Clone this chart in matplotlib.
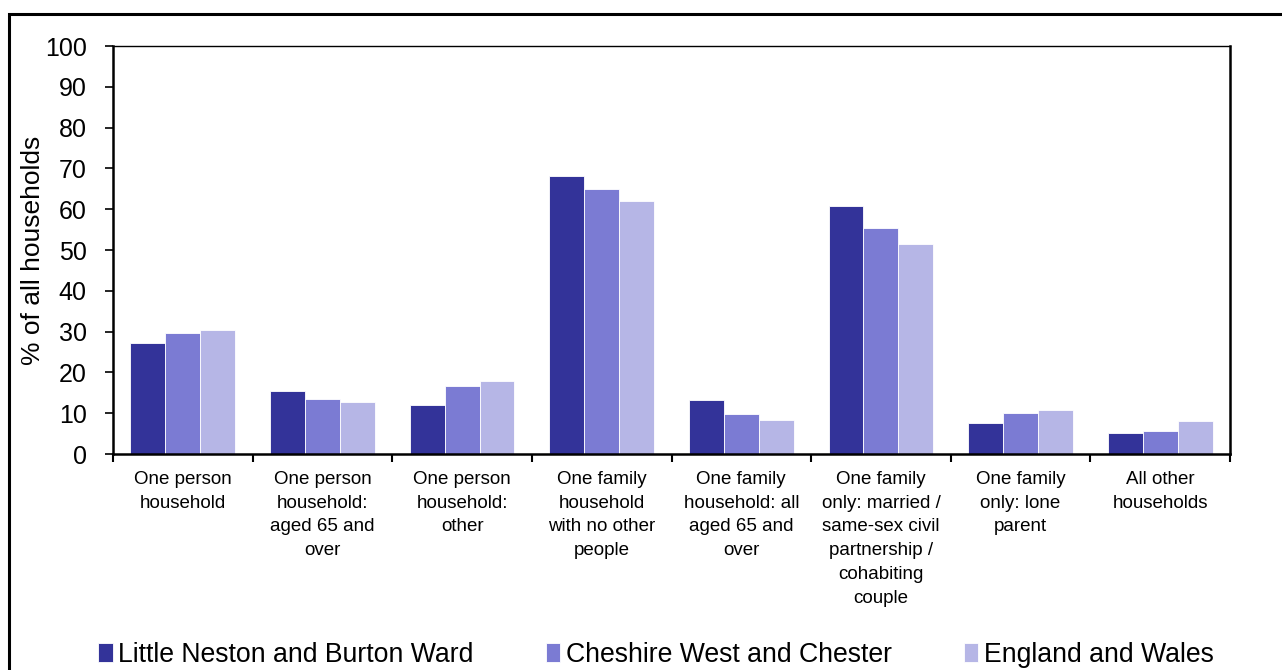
# -*- coding: utf-8 -*-
import numpy as np
import matplotlib
matplotlib.use('Agg')
import matplotlib.pyplot as plt
from matplotlib.patches import Rectangle

plt.rcParams['font.family'] = ['Liberation Sans', 'DejaVu Sans']

# Dados
categorias = ['One person\nhousehold',
              'One person\nhousehold:\naged 65 and\nover',
              'One person\nhousehold:\nother',
              'One family\nhousehold\nwith no other\npeople',
              'One family\nhousehold: all\naged 65 and\nover',
              'One family\nonly: married /\nsame-sex civil\npartnership /\ncohabiting\ncouple',
              'One family\nonly: lone\nparent',
              'All other\nhouseholds']
series = ['Little Neston and Burton Ward', 'Cheshire West and Chester', 'England and Wales']
ward = [27.3, 15.4, 12.1, 68.1, 13.2, 60.8, 7.5, 5.1]
cheshire = [29.7, 13.4, 16.6, 65.0, 9.7, 55.3, 10.0, 5.6]
england = [30.3, 12.7, 18.0, 61.9, 8.4, 51.4, 10.8, 8.2]
cores = ['#333399', '#7B7BD3', '#B6B6E6']
yticks = list(range(0, 101, 10))

fig = plt.figure(figsize=(12.82, 6.70), dpi=100)
ax = fig.add_axes([113/1282, 1 - 454/670, (1230 - 113)/1282, (454 - 46)/670])

x = np.arange(len(categorias))
largura = 0.25
for k, (valores, nome, cor) in enumerate(zip([ward, cheshire, england], series, cores)):
    ax.bar(x + 0.25 + k * largura, valores, largura, color=cor, label=nome,
           edgecolor='white', linewidth=0.6)

ax.set_xlim(0, len(categorias))
ax.set_ylim(0, 100)
ax.set_yticks(yticks)
ax.tick_params(axis='y', labelsize=18, direction='out', length=6, width=1.2, pad=13)
ax.set_xticks(np.arange(len(categorias) + 1))
ax.set_xticklabels([])
ax.tick_params(axis='x', which='major', direction='out', length=6, width=1.5)
ax.set_xticks(x + 0.5, minor=True)
ax.set_xticklabels(categorias, minor=True, fontsize=13.5, linespacing=1.53, va='top')
ax.tick_params(axis='x', which='minor', length=0, pad=12)
ax.set_ylabel('% of all households', fontsize=19)
ax.yaxis.set_label_coords((45 - 113) / 1117, 0.5)

for lado in ['left', 'bottom', 'right']:
    ax.spines[lado].set_linewidth(1.8)
ax.spines['top'].set_linewidth(1.0)

# Moldura externa
fig.patches.append(Rectangle((9/1282, -0.1), 1.2, 1.1 - 14/670, transform=fig.transFigure,
                             fill=False, edgecolor='black', linewidth=2.2, clip_on=False))

fig.legend(loc='center', bbox_to_anchor=(656/1282, 1 - 655/670), ncol=3, frameon=False,
           fontsize=19.2, handlelength=0.55, handleheight=0.75, handletextpad=0.2,
           columnspacing=2.7)

plt.savefig('out.png', dpi=100)
